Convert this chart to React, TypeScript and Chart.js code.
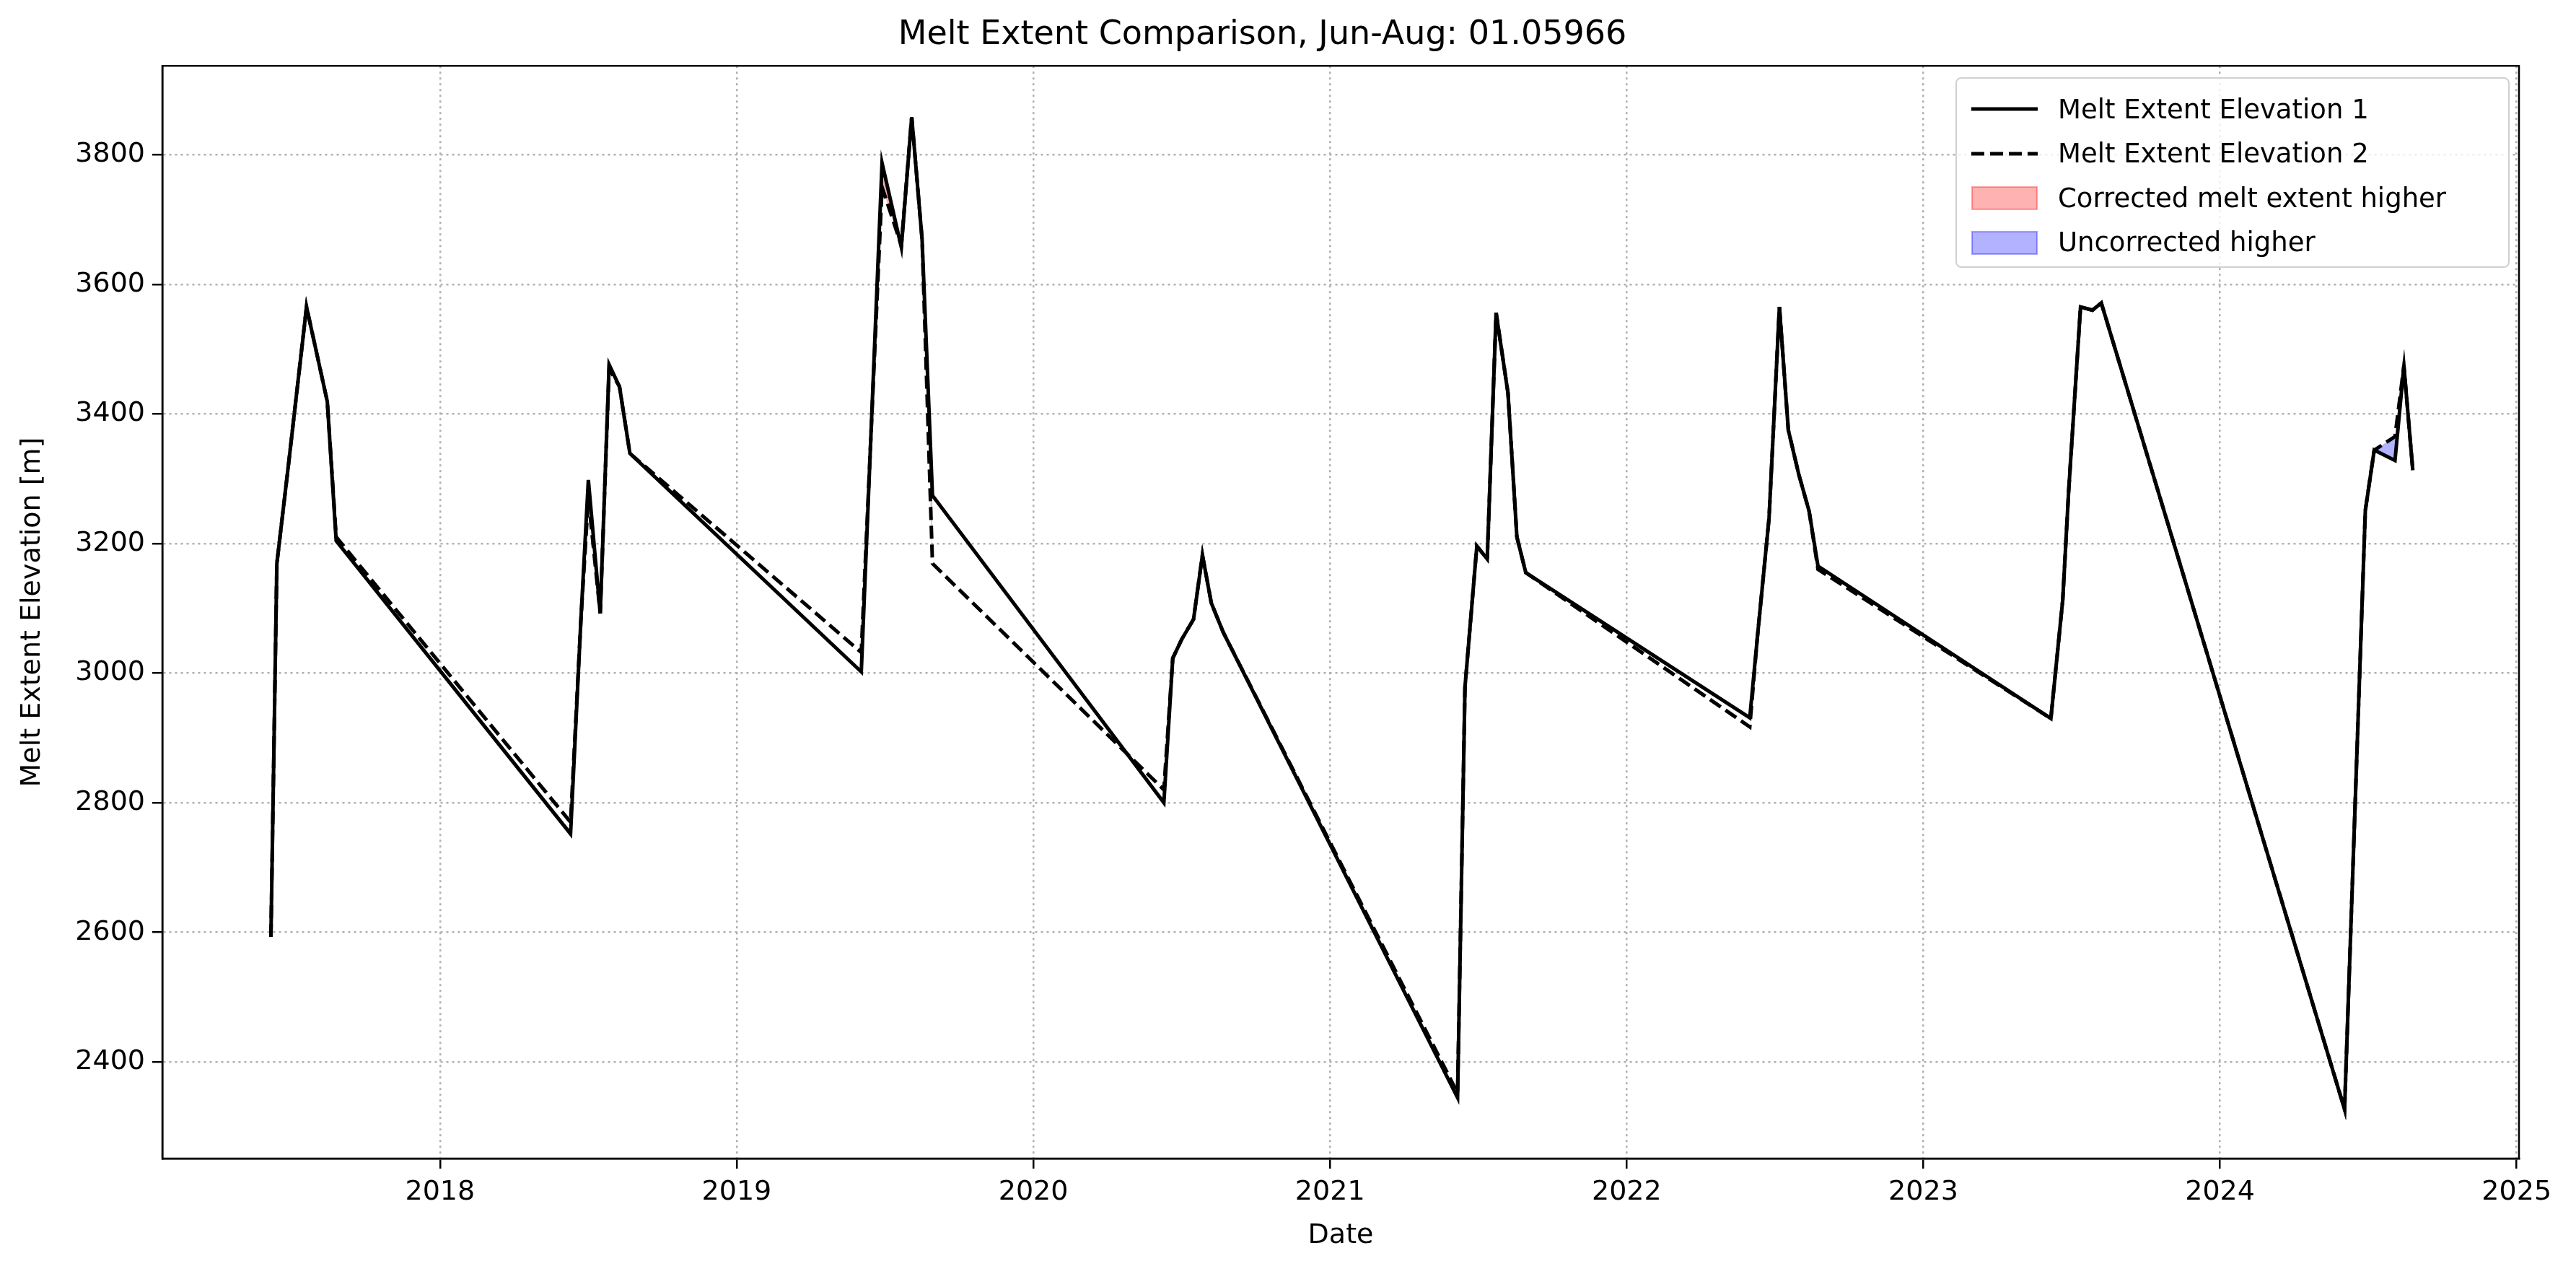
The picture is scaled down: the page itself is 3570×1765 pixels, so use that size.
import { useEffect, useRef } from 'react';
import { Chart, registerables } from 'chart.js';

Chart.register(...registerables);

// decimal years of each observation
const dates = [
  2017.43, 2017.45, 2017.49, 2017.55, 2017.62, 2017.65,
  2018.44, 2018.475, 2018.5, 2018.54, 2018.57, 2018.605, 2018.64,
  2019.42, 2019.49, 2019.555, 2019.59, 2019.625, 2019.66,
  2020.44, 2020.47, 2020.5, 2020.54, 2020.57, 2020.6, 2020.64,
  2021.43, 2021.455, 2021.495, 2021.53, 2021.56, 2021.6, 2021.63, 2021.66,
  2022.415, 2022.44, 2022.48, 2022.515, 2022.545, 2022.58, 2022.615, 2022.645,
  2023.43, 2023.47, 2023.49, 2023.53, 2023.57, 2023.6,
  2024.42, 2024.49, 2024.52, 2024.59, 2024.62, 2024.65,
];
const elevation1 = [
  2593, 3169, 3325, 3565, 3419, 3204,
  2752, 3083, 3298, 3092, 3476, 3442, 3339,
  3002, 3787, 3657, 3858, 3669, 3274,
  2800, 3023, 3052, 3083, 3182, 3108, 3063,
  2345, 2978, 3196, 3176, 3556, 3432, 3210, 3155,
  2931, 3052, 3239, 3565, 3375, 3307, 3250, 3165,
  2930, 3113, 3281, 3565, 3560, 3571,
  2327, 3251, 3344, 3328, 3474, 3313,
];
const elevation2 = [
  2593, 3169, 3325, 3565, 3419, 3210,
  2770, 3083, 3270, 3092, 3470, 3442, 3339,
  3032, 3750, 3660, 3858, 3669, 3169,
  2820, 3023, 3052, 3083, 3182, 3108, 3063,
  2352, 2978, 3196, 3176, 3556, 3432, 3210, 3155,
  2917, 3052, 3239, 3565, 3375, 3307, 3250, 3160,
  2930, 3113, 3281, 3565, 3560, 3571,
  2327, 3251, 3344, 3365, 3474, 3313,
];
const xTicks = [2018, 2019, 2020, 2021, 2022, 2023, 2024, 2025];
const yTicks = [2400, 2600, 2800, 3000, 3200, 3400, 3600, 3800];

const FONT = 'DejaVu Sans';

// shaded difference only within each summer: break across the winter gaps
const seasonal = (vals: number[]) => {
  const out: { x: number; y: number | null }[] = [];
  dates.forEach((d, i) => {
    if (i > 0 && d - dates[i - 1] > 0.3) out.push({ x: (d + dates[i - 1]) / 2, y: null });
    out.push({ x: d, y: vals[i] });
  });
  return out;
};

const frame = {
  id: 'frame',
  afterDraw(chart: Chart) {
    const { ctx, chartArea: a } = chart;
    ctx.save();
    ctx.strokeStyle = '#000';
    ctx.lineWidth = 2.5;
    ctx.strokeRect(a.left, a.top, a.right - a.left, a.bottom - a.top);
    ctx.restore();
  },
};

const legendItems = [
  { label: 'Melt Extent Elevation 1', kind: 'solid' },
  { label: 'Melt Extent Elevation 2', kind: 'dashed' },
  { label: 'Corrected melt extent higher', kind: 'red' },
  { label: 'Uncorrected higher', kind: 'blue' },
];

export default function App() {
  const canvasRef = useRef<HTMLCanvasElement>(null);

  useEffect(() => {
    if (!canvasRef.current) return;
    const grid = { color: '#b0b0b0', lineWidth: 2.5, tickLength: 14, tickColor: '#000' };
    const tickFont = { family: FONT, size: 38 };
    const chart = new Chart(canvasRef.current, {
      type: 'line',
      data: {
        datasets: [
          {
            label: 'Melt Extent Elevation 1',
            data: dates.map((d, i) => ({ x: d, y: elevation1[i] })),
            borderColor: '#000',
            borderWidth: 5,
            pointRadius: 0,
            tension: 0,
            fill: false,
          },
          {
            label: 'Melt Extent Elevation 2',
            data: dates.map((d, i) => ({ x: d, y: elevation2[i] })),
            borderColor: '#000',
            borderWidth: 5,
            borderDash: [18, 8],
            pointRadius: 0,
            tension: 0,
            fill: false,
          },
          {
            label: 'fill1',
            data: seasonal(elevation1),
            borderWidth: 0,
            borderColor: 'rgba(0,0,0,0)',
            pointRadius: 0,
            tension: 0,
            spanGaps: false,
            fill: { target: 3, above: 'rgba(255,0,0,0.3)', below: 'rgba(0,0,255,0.3)' },
          },
          {
            label: 'fill2',
            data: seasonal(elevation2),
            borderWidth: 0,
            borderColor: 'rgba(0,0,0,0)',
            pointRadius: 0,
            tension: 0,
            spanGaps: false,
            fill: false,
          },
        ],
      },
      options: {
        animation: false,
        responsive: false,
        devicePixelRatio: 1,
        layout: { padding: { left: 0, right: 71, top: 0, bottom: 0 } },
        plugins: {
          legend: { display: false },
          tooltip: { enabled: false },
          title: {
            display: true,
            text: 'Melt Extent Comparison, Jun-Aug: 01.05966',
            color: '#000',
            font: { family: FONT, size: 46, weight: 'normal' },
            padding: { top: 13, bottom: 15 },
          },
        },
        scales: {
          x: {
            type: 'linear',
            min: 2017.064,
            max: 2025.008,
            afterBuildTicks: (s: any) => { s.ticks = xTicks.map(v => ({ value: v })); },
            afterFit: (s: any) => { s.height = 152; },
            grid,
            border: { color: '#000', width: 2.5, dash: [3, 5] },
            ticks: {
              color: '#000',
              font: tickFont,
              padding: 10,
              maxRotation: 0,
              callback: (v: any) => String(v),
            },
            title: {
              display: true,
              text: 'Date',
              color: '#000',
              font: tickFont,
              padding: { top: 4, bottom: 22 },
            },
          },
          y: {
            min: 2251,
            max: 3937,
            afterBuildTicks: (s: any) => { s.ticks = yTicks.map(v => ({ value: v })); },
            afterFit: (s: any) => { s.width = 217; },
            grid,
            border: { color: '#000', width: 2.5, dash: [3, 5] },
            ticks: {
              color: '#000',
              font: tickFont,
              padding: 10,
              callback: (v: any) => String(v),
            },
            title: {
              display: true,
              text: 'Melt Extent Elevation [m]',
              color: '#000',
              font: tickFont,
              padding: { top: 14, bottom: 14 },
            },
          },
        },
      },
      plugins: [frame],
    });
    return () => chart.destroy();
  }, []);

  return (
    <div style={{ position: 'relative', width: 3554, height: 1749, background: '#fff' }}>
      <canvas ref={canvasRef} width={3554} height={1749} />
      <div
        style={{
          position: 'absolute', left: 2702, top: 99, width: 768, height: 264,
          boxSizing: 'border-box', border: '2.5px solid #d0d0d0', borderRadius: 8,
          background: 'rgba(255,255,255,0.8)', fontFamily: FONT, fontSize: 37, color: '#000',
        }}
      >
        {legendItems.map((it, i) => (
          <div
            key={it.label}
            style={{ position: 'absolute', left: 20, top: 22 + i * 61.5, height: 40, display: 'flex', alignItems: 'center', whiteSpace: 'nowrap' }}
          >
            <svg width={92} height={40} style={{ marginRight: 28 }}>
              {it.kind === 'solid' && <line x1={0} y1={20} x2={92} y2={20} stroke="#000" strokeWidth={5} />}
              {it.kind === 'dashed' && <line x1={0} y1={20} x2={92} y2={20} stroke="#000" strokeWidth={5} strokeDasharray="18 8" />}
              {it.kind === 'red' && <rect x={1} y={5} width={90} height={31} fill="rgba(255,0,0,0.3)" stroke="rgba(255,0,0,0.35)" strokeWidth={2} />}
              {it.kind === 'blue' && <rect x={1} y={5} width={90} height={31} fill="rgba(0,0,255,0.3)" stroke="rgba(0,0,255,0.35)" strokeWidth={2} />}
            </svg>
            <span>{it.label}</span>
          </div>
        ))}
      </div>
    </div>
  );
}
